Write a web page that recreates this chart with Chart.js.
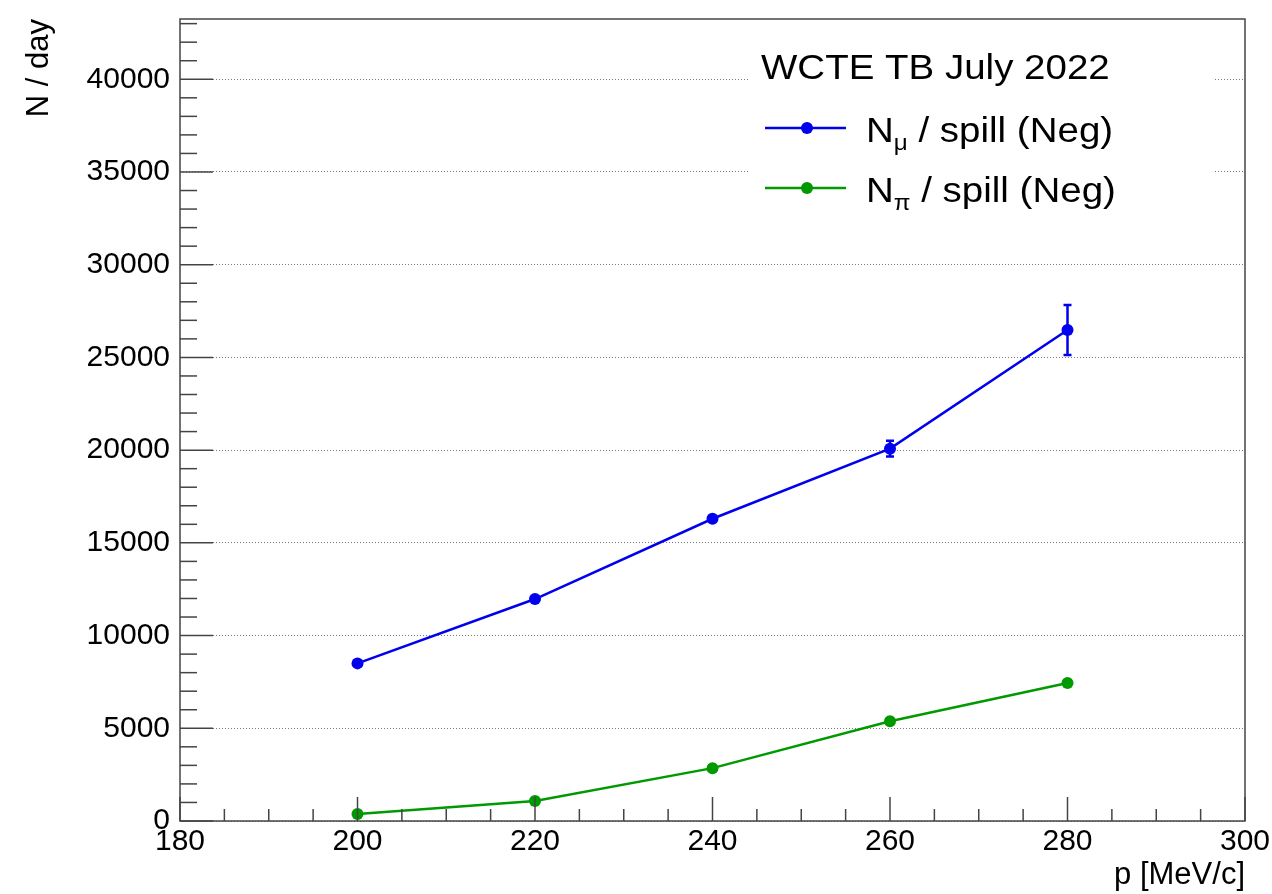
<!DOCTYPE html>
<html><head><meta charset="utf-8">
<script src="https://cdn.jsdelivr.net/npm/chart.js@4/dist/chart.umd.min.js"></script>
<style>html,body{margin:0;padding:0;background:#fff;}</style>
</head><body>
<canvas id="c" width="1272" height="894"></canvas>
<script>
// ---- data ----
const momenta = [200, 220, 240, 260, 280];
const muonPerDay = [8500, 11970, 16300, 20080, 26480];
const muonErr = [100, 120, 150, 420, 1350];
const pionPerDay = [380, 1080, 2850, 5380, 7440];
const pionErr = [40, 60, 80, 100, 120];
const xTickLabels = [180, 200, 220, 240, 260, 280, 300];
const yTickLabels = [0, 5000, 10000, 15000, 20000, 25000, 30000, 35000, 40000];
const legendHeader = 'WCTE TB July 2022';
const muLabel = ['N', 'μ', ' / spill (Neg)'];
const piLabel = ['N', 'π', ' / spill (Neg)'];
const xTitle = 'p [MeV/c]';
const yTitle = 'N / day';

const FONT = "'Liberation Sans', Arial, Helvetica, sans-serif";
const BLUE = '#0000ee';
const GREEN = '#009a00';

const series = [
  {label: muLabel, values: muonPerDay, errs: muonErr, color: BLUE},
  {label: piLabel, values: pionPerDay, errs: pionErr, color: GREEN}
];

function textScaled(ctx, str, x, y, size, sx) {
  ctx.save();
  ctx.font = size + 'px ' + FONT;
  ctx.translate(x, y);
  ctx.scale(sx, 1);
  ctx.fillText(str, 0, 0);
  const w = ctx.measureText(str).width * sx;
  ctx.restore();
  return w;
}

const rootDecor = {
  id: 'rootDecor',
  afterDatasetsDraw(chart) {
    const ctx = chart.ctx, xs = chart.scales.x, ys = chart.scales.y;
    ctx.save();
    series.forEach(s => {
      ctx.strokeStyle = s.color;
      ctx.lineWidth = 2.5;
      momenta.forEach((m, j) => {
        const px = xs.getPixelForValue(m);
        const yTop = ys.getPixelForValue(s.values[j] + s.errs[j]);
        const yBot = ys.getPixelForValue(s.values[j] - s.errs[j]);
        ctx.beginPath();
        ctx.moveTo(px, yTop); ctx.lineTo(px, yBot);
        ctx.moveTo(px - 4, yTop); ctx.lineTo(px + 4, yTop);
        ctx.moveTo(px - 4, yBot); ctx.lineTo(px + 4, yBot);
        ctx.stroke();
      });
    });
    ctx.restore();
  },
  afterDraw(chart) {
    const ctx = chart.ctx, xs = chart.scales.x, ys = chart.scales.y;
    const a = chart.chartArea;
    ctx.save();
    // frame
    ctx.strokeStyle = '#444';
    ctx.lineWidth = 1.5;
    ctx.strokeRect(a.left, a.top, a.right - a.left, a.bottom - a.top);
    // y ticks (inward)
    for (let v = 0; v <= ys.max; v += 1000) {
      const py = ys.getPixelForValue(v);
      const major = yTickLabels.includes(v);
      ctx.beginPath();
      ctx.moveTo(a.left, py);
      ctx.lineTo(a.left + (major ? 33 : 17), py);
      ctx.stroke();
    }
    // x ticks (inward)
    for (let v = xs.min; v <= xs.max; v += 5) {
      const px = xs.getPixelForValue(v);
      const major = xTickLabels.includes(v);
      ctx.beginPath();
      ctx.moveTo(px, a.bottom);
      ctx.lineTo(px, a.bottom - (major ? 24 : 12));
      ctx.stroke();
    }
    // legend box
    ctx.fillStyle = '#fff';
    ctx.fillRect(750, 38, 465, 177);
    ctx.fillStyle = '#000';
    ctx.textBaseline = 'alphabetic';
    ctx.textAlign = 'left';
    textScaled(ctx, legendHeader, 761, 79, 35, 1.1);
    const rows = [128, 188];
    series.forEach((s, i) => {
      const ly = rows[i];
      ctx.strokeStyle = s.color;
      ctx.lineWidth = 2.5;
      ctx.beginPath(); ctx.moveTo(765, ly); ctx.lineTo(846, ly); ctx.stroke();
      ctx.fillStyle = s.color;
      ctx.beginPath(); ctx.arc(807, ly, 6, 0, Math.PI * 2); ctx.fill();
      ctx.fillStyle = '#000';
      let x = 866;
      const base = ly + 14;
      x += textScaled(ctx, s.label[0], x, base, 35, 1.1);
      x += textScaled(ctx, s.label[1], x, base + 8, 22, 1.1);
      textScaled(ctx, s.label[2], x, base, 35, 1.1);
    });
    ctx.restore();
  }
};

new Chart(document.getElementById('c'), {
  type: 'line',
  data: {
    datasets: series.map(s => ({
      data: momenta.map((m, j) => ({x: m, y: s.values[j]})),
      borderColor: s.color,
      backgroundColor: s.color,
      pointBackgroundColor: s.color,
      pointBorderColor: s.color,
      pointRadius: 6,
      pointBorderWidth: 0,
      borderWidth: 2.5,
      tension: 0,
      clip: false
    }))
  },
  options: {
    responsive: false,
    devicePixelRatio: 1,
    animation: false,
    layout: {padding: {left: 0, top: 19, right: 27, bottom: 0}},
    plugins: {legend: {display: false}, tooltip: {enabled: false}},
    scales: {
      x: {
        type: 'linear', min: 180, max: 300,
        afterBuildTicks: s => { s.ticks = xTickLabels.map(v => ({value: v})); },
        afterFit: s => { s.height = 73; s.paddingLeft = 0; s.paddingRight = 0; },
        grid: {display: false, drawTicks: false},
        border: {display: false},
        ticks: {font: {family: FONT, size: 30}, color: '#000', padding: 3, maxRotation: 0, autoSkip: false,
                callback: v => String(v)},
        title: {display: true, text: xTitle, align: 'end', color: '#000',
                font: {family: FONT, size: 31}, padding: {top: 0, bottom: 0}}
      },
      y: {
        type: 'linear', min: 0, max: 43250,
        afterBuildTicks: s => { s.ticks = yTickLabels.map(v => ({value: v})); },
        afterFit: s => { s.width = 180; s.paddingTop = 0; s.paddingBottom = 0; },
        grid: {color: '#777', lineWidth: 1, drawTicks: false},
        border: {display: false, dash: [1, 2]},
        ticks: {font: {family: FONT, size: 30}, color: '#000', padding: 10, autoSkip: false,
                callback: v => String(v)},
        title: {display: true, text: yTitle, align: 'end', color: '#000',
                font: {family: FONT, size: 31}, padding: {top: 21, bottom: 0}}
      }
    }
  },
  plugins: [rootDecor]
});
</script>
</body></html>
